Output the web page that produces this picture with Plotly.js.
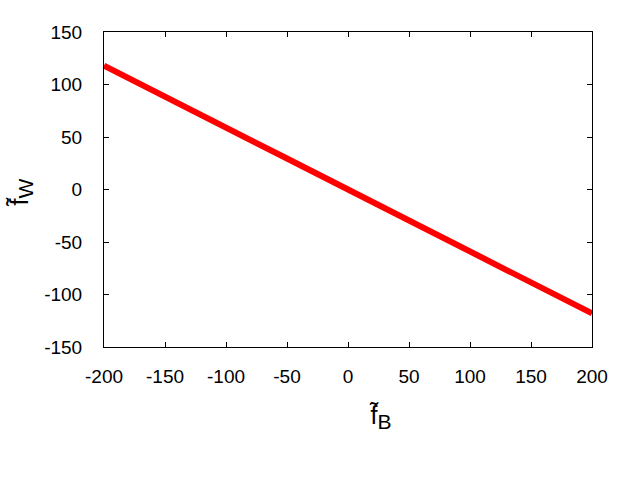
<!DOCTYPE html>
<html>
<head>
<meta charset="utf-8">
<script src="https://cdn.plot.ly/plotly-3.0.1.min.js"></script>
<style>
  body { margin: 0; background: #fff; }
  #chart { width: 640px; height: 480px; }
</style>
</head>
<body>
<div id="chart"></div>
<script>
// values
var fB = [-200, -150, -100, -50, 0, 50, 100, 150, 200];
var fW = [118, 89, 59, 29.5, 0, -29.5, -59, -89, -118];

var xTicks = [-200, -150, -100, -50, 0, 50, 100, 150, 200];
var yTicks = [-150, -100, -50, 0, 50, 100, 150];

// gnuplot draws a plain hyphen as the minus sign
function labels(vals) {
  return vals.map(function (v) { return String(v); });
}

var FONT = 'Liberation Sans, Arial, sans-serif';

var trace = {
  x: fB,
  y: fW,
  mode: 'lines',
  type: 'scatter',
  cliponaxis: false,
  line: { color: '#ff0000', width: 6 },
  hoverinfo: 'none'
};

var axisStyle = {
  showgrid: false,
  zeroline: false,
  showline: true,
  linecolor: '#000',
  linewidth: 1,
  mirror: 'allticks',
  ticks: 'inside',
  ticklen: 5,
  tickcolor: '#000',
  tickmode: 'array',
  tickfont: { family: FONT, size: 19, color: '#000' }
};

// place an annotation at a pixel position of the 640x480 picture
function px(x) { return (x - 104) / 488; }
function py(y) { return (347 - y) / 315; }

var layout = {
  width: 640,
  height: 480,
  margin: { l: 104, r: 48, t: 32, b: 133 },
  paper_bgcolor: '#fff',
  plot_bgcolor: '#fff',
  showlegend: false,
  xaxis: Object.assign({}, axisStyle, {
    range: [-200, 200],
    tickvals: xTicks,
    ticktext: labels(xTicks),
    ticklabelstandoff: 12
  }),
  yaxis: Object.assign({}, axisStyle, {
    range: [-150, 150],
    tickvals: yTicks,
    ticktext: labels(yTicks),
    ticklabelstandoff: 17
  }),
  annotations: [
    {
      text: 'f\u0303<sub><span style="font-size:21px">B</span></sub>',
      xref: 'paper', yref: 'paper',
      x: px(380), y: py(417),
      xanchor: 'center', yanchor: 'middle',
      showarrow: false,
      font: { family: FONT, size: 25, color: '#000' }
    },
    {
      text: 'f\u0303<sub><span style="font-size:21px">W</span></sub>',
      xref: 'paper', yref: 'paper',
      x: px(21), y: py(193),
      xanchor: 'center', yanchor: 'middle',
      textangle: -90,
      showarrow: false,
      font: { family: FONT, size: 25, color: '#000' }
    }
  ]
};

Plotly.newPlot('chart', [trace], layout, { staticPlot: true });
</script>
</body>
</html>
